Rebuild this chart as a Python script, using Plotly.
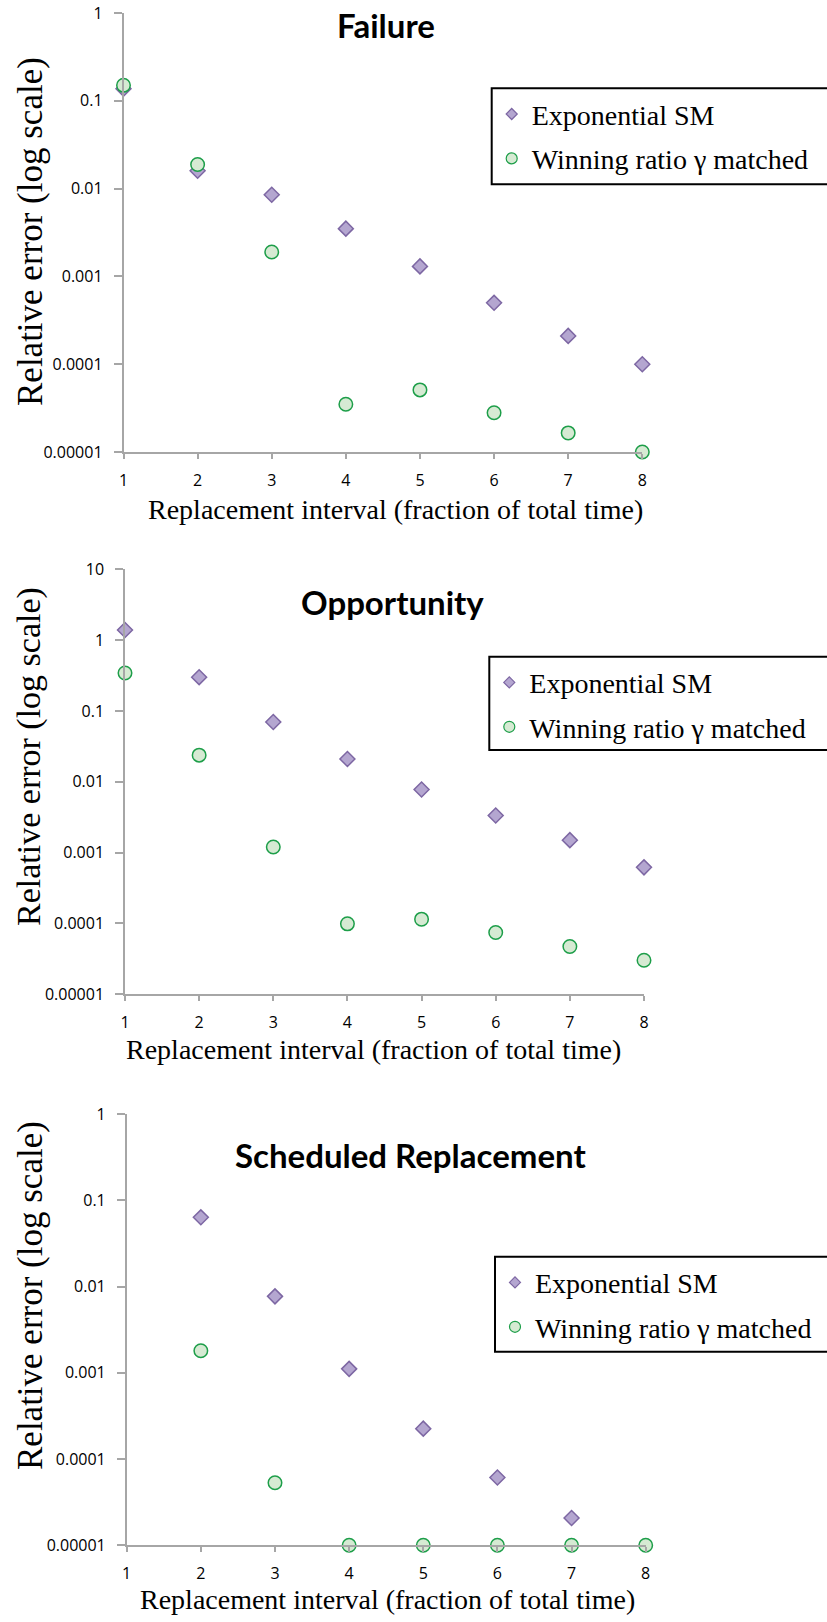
import plotly.graph_objects as go

# ---- data ----
intervals = [1, 2, 3, 4, 5, 6, 7, 8]
sched_intervals_exp = [2, 3, 4, 5, 6, 7]
sched_intervals_win = [2, 3, 4, 5, 6, 7, 8]

failure_exp = [0.137, 0.016, 0.0085, 0.0035, 0.0013, 0.0005, 0.00021, 0.0001]
failure_win = [0.15, 0.0188, 0.0019, 0.000035, 0.000051, 0.000028, 0.0000165, 0.00001]

opportunity_exp = [1.39, 0.30, 0.070, 0.021, 0.0078, 0.00335, 0.0015, 0.00062]
opportunity_win = [0.343, 0.0238, 0.0012, 0.0000988, 0.000115, 0.0000746, 0.0000473, 0.0000303]

scheduled_exp = [0.0634, 0.00769, 0.00111, 0.000225, 0.000061, 0.0000207]
scheduled_win = [0.0018, 0.0000532, 0.00001, 0.00001, 0.00001, 0.00001, 0.00001]

panel_titles = ["Failure", "Opportunity", "Scheduled Replacement"]
series_names = ["Exponential SM", "Winning ratio \u03b3 matched"]
x_tick_labels = ["1", "2", "3", "4", "5", "6", "7", "8"]
y_tick_vals = [1e-5, 1e-4, 1e-3, 1e-2, 1e-1, 1, 10]
y_tick_text = ["0.00001", "0.0001", "0.001", "0.01", "0.1", "1", "10"]
y_title = "Relative error (log scale)"
x_title = "Replacement interval (fraction of total time)"

# ---- page geometry ----
W, H = 827, 1622


def px_x(p):
    return p / W


def px_y(p):
    return 1 - p / H


# plot areas in pixels: left, right, top, bottom, and log range top
panels = [
    dict(x0=123.5, x1=642.3, y0=13, y1=452, ytop=0),
    dict(x0=125.0, x1=644.0, y0=569.3, y1=994.3, ytop=1),
    dict(x0=126.7, x1=645.7, y0=1114, y1=1545.3, ytop=0),
]

EXP_FILL, EXP_LINE = "#b4a6d0", "#7d67a3"
WIN_FILL, WIN_LINE = "#d6ead3", "#1d9e49"
AXIS_GREY = "#a6a6a6"
SANS = "Open Sans"
SERIF = "Liberation Serif"

fig = go.Figure()

panel_data = [
    (intervals, failure_exp, intervals, failure_win),
    (intervals, opportunity_exp, intervals, opportunity_win),
    (sched_intervals_exp, scheduled_exp, sched_intervals_win, scheduled_win),
]

for i, (xe, ye, xw, yw) in enumerate(panel_data):
    n = "" if i == 0 else str(i + 1)
    xa, ya, lg = "x" + n, "y" + n, "legend" + n
    fig.add_trace(go.Scatter(
        x=xe, y=ye, mode="markers", xaxis=xa, yaxis=ya, showlegend=False,
        cliponaxis=False,
        marker=dict(symbol="diamond", size=11.5, color=EXP_FILL,
                    line=dict(color=EXP_LINE, width=1.5)),
    ))
    fig.add_trace(go.Scatter(
        x=xw, y=yw, mode="markers", xaxis=xa, yaxis=ya, showlegend=False,
        cliponaxis=False,
        marker=dict(symbol="circle", size=13.5, color=WIN_FILL,
                    line=dict(color=WIN_LINE, width=1.5)),
    ))
    # legend entries with smaller symbols
    fig.add_trace(go.Scatter(
        x=[None], y=[None], mode="markers", xaxis=xa, yaxis=ya,
        name=series_names[0], legend=lg, legendgroup="a" + n,
        marker=dict(symbol="diamond", size=8.5, color=EXP_FILL,
                    line=dict(color=EXP_LINE, width=1.2)),
    ))
    fig.add_trace(go.Scatter(
        x=[None], y=[None], mode="markers", xaxis=xa, yaxis=ya,
        name=series_names[1], legend=lg, legendgroup="b" + n,
        marker=dict(symbol="circle", size=11, color=WIN_FILL,
                    line=dict(color=WIN_LINE, width=1.2)),
    ))

layout = dict(
    template="none",
    width=W, height=H, autosize=False,
    margin=dict(l=0, r=0, t=0, b=0, pad=0, autoexpand=False),
    paper_bgcolor="white", plot_bgcolor="white",
    font=dict(family=SANS, color="black"),
    annotations=[], shapes=[],
)

# legend frames: left, top, bottom (right side runs off the page)
legend_box = [(491.7, 88.3, 184.3), (489.3, 656.7, 750.0), (495.0, 1256.7, 1351.7)]
x_title_pos = [(395.5, 510), (373.0, 1049), (387.0, 1599)]
y_title_pos = [(30, 232, 35), (29, 757, 34), (30, 1296, 35)]
title_pos = [(386, 25), (392, 602), (410, 1155)]

for i, p in enumerate(panels):
    n = "" if i == 0 else str(i + 1)
    xa_key, ya_key = "xaxis" + n, "yaxis" + n
    nv = 6 if p["ytop"] == 0 else 7
    layout[xa_key] = dict(
        domain=[px_x(p["x0"]), px_x(p["x1"])], anchor="y" + n,
        range=[1, 8], tickvals=intervals, ticktext=x_tick_labels,
        showline=True, linecolor=AXIS_GREY, linewidth=1.5,
        ticks="outside", ticklen=5, tickcolor=AXIS_GREY, tickwidth=1.5,
        showgrid=False, zeroline=False, automargin=False,
        tickfont=dict(family=SANS, size=16, color="black"),
        ticklabelstandoff=8,
    )
    layout[ya_key] = dict(
        domain=[px_y(p["y1"]), px_y(p["y0"])], anchor="x" + n,
        type="log", range=[-5, p["ytop"]],
        tickvals=y_tick_vals[:nv], ticktext=y_tick_text[:nv],
        showline=True, linecolor=AXIS_GREY, linewidth=1.5,
        ticks="outside", ticklen=8, tickcolor=AXIS_GREY, tickwidth=1.5,
        showgrid=False, zeroline=False, automargin=False,
        tickfont=dict(family=SANS, size=16, color="black"),
        ticklabelstandoff=8,
    )
    bx, bt, bb = legend_box[i]
    layout["shapes"].append(dict(
        type="rect", xref="paper", yref="paper",
        x0=px_x(bx), x1=px_x(W + 20), y0=px_y(bb), y1=px_y(bt),
        line=dict(color="black", width=2), fillcolor="white", layer="below",
    ))
    layout["legend" + n] = dict(
        x=px_x(bx), y=px_y(bt + 1), xanchor="left", yanchor="top",
        bgcolor="rgba(0,0,0,0)", borderwidth=0,
        font=dict(family=SERIF, size=28, color="black"),
        itemsizing="trace", tracegroupgap=5,
    )
    tx, ty = title_pos[i]
    layout["annotations"].append(dict(
        text="<b>%s</b>" % panel_titles[i], x=px_x(tx), y=px_y(ty),
        xref="paper", yref="paper", showarrow=False,
        xanchor="center", yanchor="middle",
        font=dict(family="Lato", size=33, color="black"),
    ))
    ax_, ay_ = x_title_pos[i]
    layout["annotations"].append(dict(
        text=x_title, x=px_x(ax_), y=px_y(ay_),
        xref="paper", yref="paper", showarrow=False,
        xanchor="center", yanchor="middle",
        font=dict(family=SERIF, size=28, color="black"),
    ))
    yx, yy, ys = y_title_pos[i]
    layout["annotations"].append(dict(
        text=y_title, x=px_x(yx), y=px_y(yy), textangle=-90,
        xref="paper", yref="paper", showarrow=False,
        xanchor="center", yanchor="middle",
        font=dict(family=SERIF, size=ys, color="black"),
    ))

fig.update_layout(**layout)
fig.write_html("out.html")
